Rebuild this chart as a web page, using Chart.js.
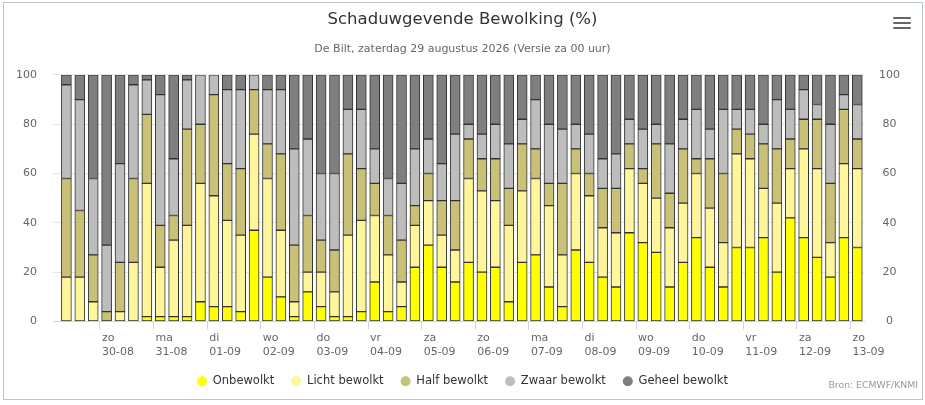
<!DOCTYPE html>
<html>
<head>
<meta charset="utf-8">
<script src="https://cdn.jsdelivr.net/npm/chart.js@4.4.1/dist/chart.umd.min.js"></script>
<style>
  body { margin: 0; background: #fff; }
  #wrap { position: relative; width: 925px; height: 405px; }
  #frame { position: absolute; left: 3px; top: 2px; width: 918px; height: 396px; border: 1px solid #b9c6cf; pointer-events: none; }
  #menu { position: absolute; left: 893px; top: 17px; width: 18px; }
  #menu span { display: block; height: 2px; background: #666; margin-bottom: 3px; border-radius: 1px; }
  #credits { position: absolute; right: 7px; top: 379px; font: 9.3px "DejaVu Sans"; color: #999; }
</style>
</head>
<body>
<div id="wrap">
  <canvas id="chart" width="925" height="405"></canvas>
  <div id="frame"></div>
  <div id="menu"><span></span><span></span><span></span></div>
  <div id="credits">Bron: ECMWF/KNMI</div>
</div>
<script>
// tick labels (one per midnight)
const dayLabels  = ['zo', 'ma', 'di', 'wo', 'do', 'vr', 'za', 'zo', 'ma', 'di', 'wo', 'do', 'vr', 'za', 'zo'];
const dateLabels = ['30-08', '31-08', '01-09', '02-09', '03-09', '04-09', '05-09', '06-09',
                    '07-09', '08-09', '09-09', '10-09', '11-09', '12-09', '13-09'];

// 6-hour periods, first one centred on 29-08 09:00
const firstHour = 9;
const stepHours = 6;

// percentages per period
const onbewolkt = [0, 0, 0, 0, 0, 0, 2, 2, 2, 2, 8, 6, 6, 4, 37, 18, 10, 2, 12, 6,
                   2, 2, 4, 16, 4, 6, 22, 31, 22, 16, 24, 20, 22, 8, 24, 27, 14, 6, 29, 24,
                   18, 14, 36, 32, 28, 14, 24, 34, 22, 14, 30, 30, 34, 20, 42, 34, 26, 18, 34, 30];
const licht     = [18, 18, 8, 0, 4, 24, 54, 20, 31, 37, 48, 45, 35, 31, 39, 40, 27, 6, 8, 14,
                   10, 33, 37, 27, 23, 10, 17, 18, 13, 13, 34, 33, 27, 31, 29, 31, 33, 21, 31, 27,
                   20, 22, 26, 24, 22, 24, 24, 26, 24, 18, 38, 36, 20, 28, 20, 36, 36, 14, 30, 32];
const half      = [40, 27, 19, 4, 20, 34, 28, 17, 10, 39, 24, 41, 23, 27, 18, 14, 31, 23, 23, 13,
                   17, 33, 21, 13, 16, 17, 8, 11, 14, 20, 16, 13, 17, 15, 19, 12, 9, 29, 10, 9,
                   16, 18, 10, 6, 22, 14, 22, 6, 20, 28, 10, 10, 18, 22, 12, 12, 20, 24, 22, 12];
const zwaar     = [38, 45, 31, 27, 40, 38, 14, 53, 23, 20, 20, 8, 30, 32, 6, 22, 26, 39, 31, 27,
                   31, 18, 24, 14, 15, 23, 23, 14, 15, 27, 6, 10, 14, 18, 10, 20, 24, 22, 10, 16,
                   12, 14, 10, 16, 8, 20, 12, 20, 12, 26, 8, 10, 8, 20, 12, 12, 6, 24, 6, 14];
const geheel    = [4, 10, 42, 69, 36, 4, 2, 8, 34, 2, 0, 0, 6, 6, 0, 6, 6, 30, 26, 40,
                   40, 14, 14, 30, 42, 44, 30, 26, 36, 24, 20, 24, 20, 28, 18, 10, 20, 22, 20, 24,
                   34, 32, 18, 22, 20, 28, 18, 14, 22, 14, 14, 14, 20, 10, 14, 6, 12, 20, 8, 12];

const seriesNames  = ['Onbewolkt', 'Licht bewolkt', 'Half bewolkt', 'Zwaar bewolkt', 'Geheel bewolkt'];
const seriesValues = [onbewolkt, licht, half, zwaar, geheel];
const seriesColors = ['#ffff00', '#fff59b', '#c9c177', '#bdbdbd', '#7f7f7f'];

const font = 'DejaVu Sans';

const datasets = seriesNames.map((name, s) => ({
  label: name,
  data: seriesValues[s].map((v, i) => ({ x: firstHour + i * stepHours, y: v })),
  backgroundColor: seriesColors[s],
  borderColor: '#333',
  borderWidth: 1,
  borderSkipped: false,
  barThickness: 10
}));

const ctx = document.getElementById('chart').getContext('2d');
const chart = new Chart(ctx, {
  type: 'bar',
  data: { datasets: datasets },
  options: {
    responsive: false,
    animation: false,
    layout: { padding: { left: 0, right: 0, top: 0, bottom: 8 } },
    plugins: {
      title: {
        display: true,
        text: 'Schaduwgevende Bewolking (%)',
        color: '#333',
        font: { family: font, size: 16.5, weight: 'normal' },
        padding: { top: 10, bottom: 12.5 }
      },
      subtitle: {
        display: true,
        text: 'De Bilt, zaterdag 29 augustus 2026 (Versie za 00 uur)',
        color: '#666',
        font: { family: font, size: 11 },
        padding: { top: 0, bottom: 19.4 }
      },
      legend: {
        position: 'bottom',
        labels: {
          usePointStyle: true,
          pointStyle: 'circle',
          boxHeight: 7.07,
          pointStyleWidth: 10,
          padding: 17,
          color: '#333',
          font: { family: font, size: 11.5 },
          generateLabels: (c) => Chart.defaults.plugins.legend.labels.generateLabels(c)
            .map(l => Object.assign(l, { lineWidth: 0, strokeStyle: 'rgba(0,0,0,0)' }))
        }
      },
      tooltip: { enabled: false }
    },
    scales: {
      x: {
        type: 'linear',
        min: 3,
        max: 366,
        stacked: true,
        offset: false,
        afterBuildTicks: (s) => { s.ticks = dateLabels.map((d, i) => ({ value: (i + 1) * 24 })); },
        afterFit: (s) => { s.height = 37; },
        ticks: {
          autoSkip: false,
          maxRotation: 0,
          align: 'start',
          labelOffset: 2,
          padding: 2,
          color: '#666',
          font: { family: font, size: 11, lineHeight: 1.25 },
          callback: (v, i) => [dayLabels[i], dateLabels[i]]
        },
        grid: { offset: false, drawOnChartArea: false, tickLength: 8, color: '#ccd6eb' },
        border: { color: '#ccd6eb' }
      },
      y: {
        stacked: true,
        min: 0,
        max: 100,
        position: 'left',
        afterFit: (s) => { s.width = 53; },
        ticks: { stepSize: 20, padding: 16, color: '#666', font: { family: font, size: 11 } },
        grid: { color: '#e6e6e6', drawTicks: false },
        border: { display: false }
      },
      y2: {
        min: 0,
        max: 100,
        position: 'right',
        afterFit: (s) => { s.width = 61; },
        ticks: { stepSize: 20, padding: 15, crossAlign: 'center', color: '#666', font: { family: font, size: 11 } },
        grid: { drawOnChartArea: false, drawTicks: false },
        border: { display: false }
      }
    }
  }
});
</script>
</body>
</html>
